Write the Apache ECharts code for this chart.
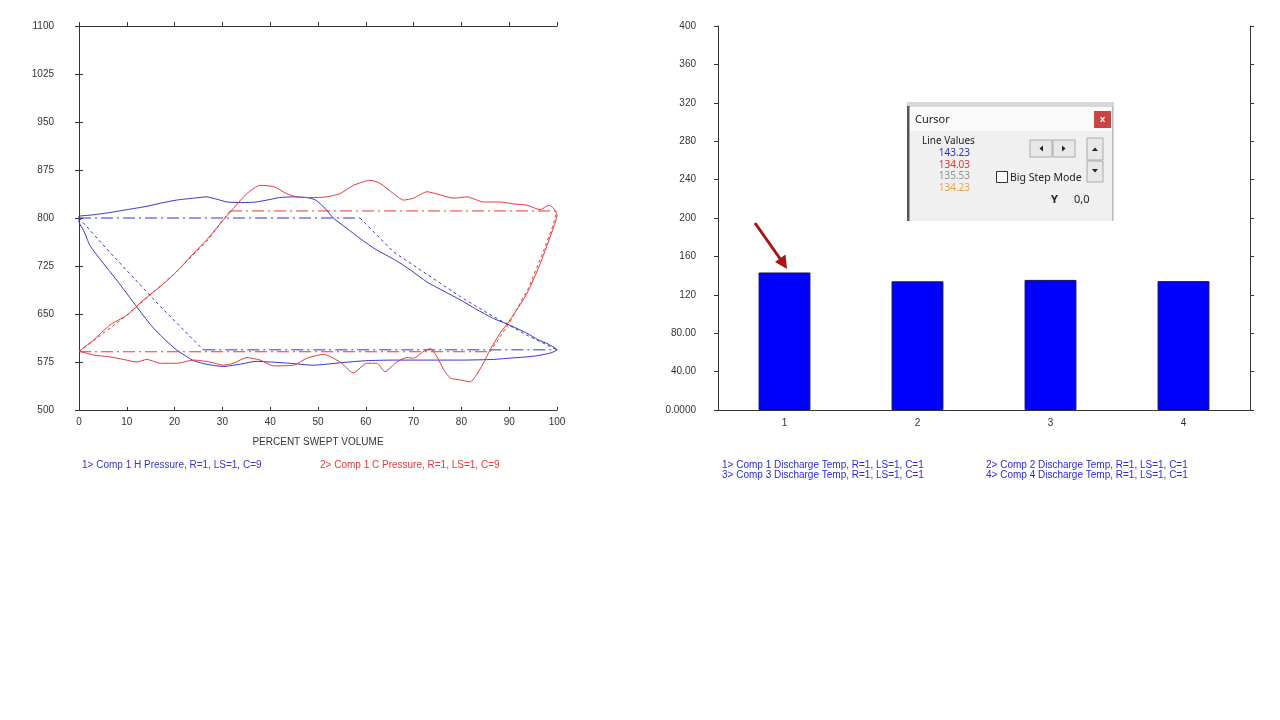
<!DOCTYPE html>
<html>
<head>
<meta charset="utf-8">
<script src="https://cdn.jsdelivr.net/npm/echarts@6/dist/echarts.min.js"></script>
<style>
  html, body { margin: 0; padding: 0; background: #fff; }
  #main { width: 1280px; height: 720px; }
</style>
</head>
<body>
<div id="main"></div>
<script>
// ---- left chart: pressure vs percent swept volume ----
var blueLoop = [
  [0,803],[3,805],[6,808],[10,813],[14,818],[17,823],[20.4,828],[24,831],[26.7,833],[29,829],[31,825],[34,824],[37,825],
  [40,829],[42,832],[45,833],[47.7,832],[49.5,828],[51.5,815],[53.2,800],[56,784],[58.8,768],[62.3,750],[66,735],
  [69.3,719],[72.8,700],[76,687],[79.8,672],[83,658],[86.7,643],[90,633],[93.7,620],[96,610],[97.9,604],[100,594],
  [98.6,589],[96,585],[93.7,583],[90,581],[86.7,579],[80,578],[72,578],[65.8,578],[60,577],[55,574],[49,570],
  [44,573],[40,575],[37,576],[34,572],[30.2,568],[27,571],[24,577],[20.4,594],[17,617],[15,633],[12.1,661],
  [7.9,703],[5.1,729],[2.3,757],[1,780],[0,794],[0,803]
];
var redLoop = [
  [0,592],[3,609],[6.5,633],[10,648],[13.5,672],[17,693],[20.4,716],[24,745],[26.7,766],[30.2,797],[32.3,815],
  [35.1,838],[37.9,851],[40.7,849],[43.5,838],[46.3,832],[49,832],[51.8,833],[54.6,838],[57.4,851],[60.9,859],
  [63,854],[65.8,838],[67.9,828],[70,831],[72.8,841],[75.6,836],[78.4,831],[81.2,833],[84.6,825],[88.1,825],
  [90.9,822],[93.7,820],[96.5,813],[98.3,820],[99.3,815],[100,805],
  [99.3,786],[96.5,729],[93.7,682],[90.2,641],[88.1,620],[86,594],[84.6,573],[82.9,552],[81.9,544],[79.8,547],
  [77.7,550],[76.3,563],[74.9,583],[73.5,596],[72,591],[70,581],[68.6,582],[66.5,575],[64,560],[62.3,573],
  [60.2,573],[57.4,558],[54.6,575],[51.2,587],[47.7,581],[44.9,570],[40.7,569],[37.9,578],[35.1,582],[32.3,573],
  [30.2,570],[27.4,575],[24,578],[20.4,573],[17,573],[14.2,579],[12.1,575],[9.3,579],[6.5,583],[3,586],[0,592]
];
// theoretical cycle pieces
var blueTopIdeal = [[0,800],[58.8,800]];
var blueBottomIdeal = [[26,594],[100,594]];
var blueLeftIdeal = [[0,800],[6.5,746],[17,662],[26,594]];
var blueRightIdeal = [[58.8,800],[65.8,747],[72.8,712],[79.8,677],[86.7,646],[93.7,617],[100,594]];
var redTopIdeal = [[31.6,811],[100,811]];
var redBottomIdeal = [[0,591],[86,591]];
var redLeftIdeal = [[0,591],[10,648],[20,713],[27,766],[31.6,811]];
var redRightIdeal = [[86,591],[90,636],[94,690],[97,745],[99,785],[100,811]];

var leftLegend = ['1> Comp 1 H Pressure, R=1, LS=1, C=9', '2> Comp 1 C Pressure, R=1, LS=1, C=9'];

// ---- right chart: discharge temps ----
var barCats = ['1', '2', '3', '4'];
var barValues = [143.23, 134.03, 135.53, 134.23];
var rightTickLabels = ['0.0000','40.00','80.00','120','160','200','240','280','320','360','400'];
var rightLegend = [
  '1> Comp 1 Discharge Temp, R=1, LS=1, C=1',
  '2> Comp 2 Discharge Temp, R=1, LS=1, C=1',
  '3> Comp 3 Discharge Temp, R=1, LS=1, C=1',
  '4> Comp 4 Discharge Temp, R=1, LS=1, C=1'
];
var cursorValues = ['143.23', '134.03', '135.53', '134.23'];
var cursorColors = ['#3030c8', '#d83a3a', '#909090', '#f0a040'];

var BLUE = '#3535c8', RED = '#e83838';
var FONT = '"Liberation Sans", Arial, sans-serif';
var UIFONT = '"Noto Sans", "DejaVu Sans", sans-serif';

var myChart = echarts.init(document.getElementById('main'));

var axisLine = { lineStyle: { color: '#333', width: 1 } };
var lbl = { color: '#333', fontSize: 10, fontFamily: FONT };

function lineSeries(name, data, color, type) {
  return {
    name: name, type: 'line', xAxisIndex: 0, yAxisIndex: 0,
    data: data, symbol: 'none', smooth: type === 'solid' ? 0.2 : false,
    lineStyle: { color: color, width: 1, type: type },
    silent: true
  };
}

var dashDot = [12, 4, 2, 4];
var fine = [3, 3];

var legendTexts = [];
legendTexts.push({ type: 'text', left: 82, top: 460, style: { text: leftLegend[0], fill: BLUE, font: '10px ' + FONT } });
legendTexts.push({ type: 'text', left: 320, top: 460, style: { text: leftLegend[1], fill: RED, font: '10px ' + FONT } });
for (var i = 0; i < rightLegend.length; i++) {
  legendTexts.push({
    type: 'text', left: i % 2 === 0 ? 722 : 986, top: 460 + Math.floor(i / 2) * 10,
    style: { text: rightLegend[i], fill: '#2a2ad8', font: '10px ' + FONT }
  });
}

// cursor dialog (screenshot overlay in the original)
var dialog = [
  { type: 'rect', shape: { x: 907, y: 102, width: 207, height: 119 }, style: { fill: '#f0f0f0' }, z: 100 },
  { type: 'rect', shape: { x: 907, y: 102, width: 207, height: 5 }, style: { fill: '#d8d8d8' }, z: 101 },
  { type: 'rect', shape: { x: 909, y: 107, width: 203, height: 24 }, style: { fill: '#fafafa' }, z: 101 },
  { type: 'rect', shape: { x: 907, y: 106, width: 2.5, height: 115 }, style: { fill: '#555' }, z: 102 },
  { type: 'rect', shape: { x: 1112, y: 106, width: 1.5, height: 115 }, style: { fill: '#bbb' }, z: 102 },
  { type: 'text', x: 915, y: 120, style: { text: 'Cursor', fill: '#222', font: '11px ' + UIFONT, textVerticalAlign: 'middle' }, z: 103 },
  { type: 'rect', shape: { x: 1094, y: 111, width: 17, height: 17 }, style: { fill: '#c94444' }, z: 103 },
  { type: 'text', x: 1102.5, y: 119, style: { text: 'x', fill: '#fff', font: 'bold 9px ' + UIFONT, textAlign: 'center', textVerticalAlign: 'middle' }, z: 104 },
  { type: 'text', x: 922, y: 141, style: { text: 'Line Values', fill: '#222', font: '10px ' + UIFONT, textVerticalAlign: 'middle' }, z: 103 },
  // arrow buttons
  { type: 'rect', shape: { x: 1030, y: 140, width: 22, height: 17 }, style: { fill: '#e8e8e8', stroke: '#aaa', lineWidth: 1 }, z: 103 },
  { type: 'rect', shape: { x: 1053, y: 140, width: 22, height: 17 }, style: { fill: '#e8e8e8', stroke: '#aaa', lineWidth: 1 }, z: 103 },
  { type: 'polygon', shape: { points: [[1043, 145.5], [1043, 151.5], [1039.5, 148.5]] }, style: { fill: '#222' }, z: 104 },
  { type: 'polygon', shape: { points: [[1062, 145.5], [1062, 151.5], [1065.5, 148.5]] }, style: { fill: '#222' }, z: 104 },
  { type: 'rect', shape: { x: 1087, y: 138, width: 16, height: 22 }, style: { fill: '#e8e8e8', stroke: '#aaa', lineWidth: 1 }, z: 103 },
  { type: 'rect', shape: { x: 1087, y: 161, width: 16, height: 21 }, style: { fill: '#e8e8e8', stroke: '#aaa', lineWidth: 1 }, z: 103 },
  { type: 'polygon', shape: { points: [[1092, 151], [1098, 151], [1095, 147.5]] }, style: { fill: '#222' }, z: 104 },
  { type: 'polygon', shape: { points: [[1092, 169], [1098, 169], [1095, 172.5]] }, style: { fill: '#222' }, z: 104 },
  // checkbox
  { type: 'rect', shape: { x: 996.5, y: 171.5, width: 11, height: 11 }, style: { fill: '#fff', stroke: '#333', lineWidth: 1 }, z: 103 },
  { type: 'text', x: 1010, y: 178, style: { text: 'Big Step Mode', fill: '#222', font: '10.5px ' + UIFONT, textVerticalAlign: 'middle' }, z: 103 },
  { type: 'text', x: 1051, y: 200, style: { text: 'Y', fill: '#222', font: 'bold 11px ' + UIFONT, textVerticalAlign: 'middle' }, z: 103 },
  { type: 'text', x: 1074, y: 200, style: { text: '0,0', fill: '#222', font: '11px ' + UIFONT, textVerticalAlign: 'middle' }, z: 103 }
];
for (var k = 0; k < cursorValues.length; k++) {
  dialog.push({
    type: 'text', x: 970, y: 153 + k * 11.7,
    style: { text: cursorValues[k], fill: cursorColors[k], font: '10px ' + UIFONT, textAlign: 'right', textVerticalAlign: 'middle' }, z: 103
  });
}

// red annotation arrow pointing at bar 1
var arrow = [
  { type: 'line', shape: { x1: 755, y1: 223, x2: 781, y2: 260 }, style: { stroke: '#a81414', lineWidth: 3 }, z: 90 },
  { type: 'polygon', shape: { points: [[787, 269], [775, 262], [785.5, 254.5]] }, style: { fill: '#a81414' }, z: 90 }
];

var plain = function (v) { return String(v); };

var option = {
  animation: false,
  backgroundColor: '#fff',
  textStyle: { fontFamily: FONT },
  grid: [
    { left: 79, top: 26, width: 478, height: 384 },
    { left: 718, top: 26, width: 532, height: 384 }
  ],
  xAxis: [
    {
      gridIndex: 0, type: 'value', position: 'bottom', min: 0, max: 100, interval: 10,
      axisLine: axisLine, axisTick: { show: true, inside: true, length: 3, lineStyle: { color: '#333' } },
      axisLabel: Object.assign({ margin: 7, formatter: plain }, lbl), splitLine: { show: false },
      name: 'PERCENT SWEPT VOLUME', nameLocation: 'middle', nameGap: 27,
      nameTextStyle: { color: '#333', fontSize: 10, fontFamily: FONT }
    },
    {
      gridIndex: 0, type: 'value', position: 'top', min: 0, max: 100, interval: 10,
      axisLine: axisLine, axisTick: { show: true, length: 4, lineStyle: { color: '#333' } },
      axisLabel: { show: false }, splitLine: { show: false }
    },
    {
      gridIndex: 1, type: 'category', position: 'bottom', data: barCats,
      axisLine: axisLine, axisTick: { show: false },
      axisLabel: Object.assign({ margin: 8 }, lbl)
    },
    {
      gridIndex: 1, type: 'category', position: 'top', data: barCats,
      axisLine: axisLine, axisTick: { show: false }, axisLabel: { show: false }
    }
  ],
  yAxis: [
    {
      gridIndex: 0, type: 'value', position: 'left', min: 500, max: 1100, interval: 75,
      axisLine: { show: true, lineStyle: { color: '#333' } },
      axisTick: { show: true, length: 4, lineStyle: { color: '#333' } },
      axisLabel: Object.assign({ margin: 25, formatter: plain }, lbl), splitLine: { show: false }
    },
    {
      gridIndex: 0, type: 'value', position: 'right', min: 500, max: 1100, interval: 75,
      axisLine: { show: true, lineStyle: { color: '#333' } },
      axisTick: { show: true, length: 4, lineStyle: { color: '#333' } },
      axisLabel: { show: false }, splitLine: { show: false }
    },
    {
      gridIndex: 1, type: 'value', position: 'left', min: 0, max: 400, interval: 40,
      axisLine: { show: true, lineStyle: { color: '#333' } },
      axisTick: { show: true, length: 4, lineStyle: { color: '#333' } },
      axisLabel: Object.assign({ margin: 22, formatter: function (v, i) { return rightTickLabels[i]; } }, lbl),
      splitLine: { show: false }
    },
    {
      gridIndex: 1, type: 'value', position: 'right', min: 0, max: 400, interval: 40,
      axisLine: { show: true, lineStyle: { color: '#333' } },
      axisTick: { show: true, length: 4, lineStyle: { color: '#333' } },
      axisLabel: { show: false }, splitLine: { show: false }
    }
  ],
  series: [
    lineSeries('blue top ideal', blueTopIdeal, BLUE, dashDot),
    lineSeries('blue bottom ideal', blueBottomIdeal, BLUE, dashDot),
    lineSeries('blue left ideal', blueLeftIdeal, BLUE, fine),
    lineSeries('blue right ideal', blueRightIdeal, BLUE, fine),
    lineSeries('red top ideal', redTopIdeal, RED, dashDot),
    lineSeries('red bottom ideal', redBottomIdeal, RED, dashDot),
    lineSeries('red left ideal', redLeftIdeal, RED, fine),
    lineSeries('red right ideal', redRightIdeal, RED, fine),
    lineSeries(leftLegend[0], blueLoop, BLUE, 'solid'),
    lineSeries(leftLegend[1], redLoop, RED, 'solid'),
    {
      name: 'Discharge Temp', type: 'bar', xAxisIndex: 2, yAxisIndex: 2,
      data: barValues, barWidth: '39%',
      itemStyle: { color: '#0000ff', borderColor: '#101060', borderWidth: 1 },
      silent: true
    }
  ],
  graphic: legendTexts.concat(arrow).concat(dialog)
};

myChart.setOption(option);
</script>
</body>
</html>
